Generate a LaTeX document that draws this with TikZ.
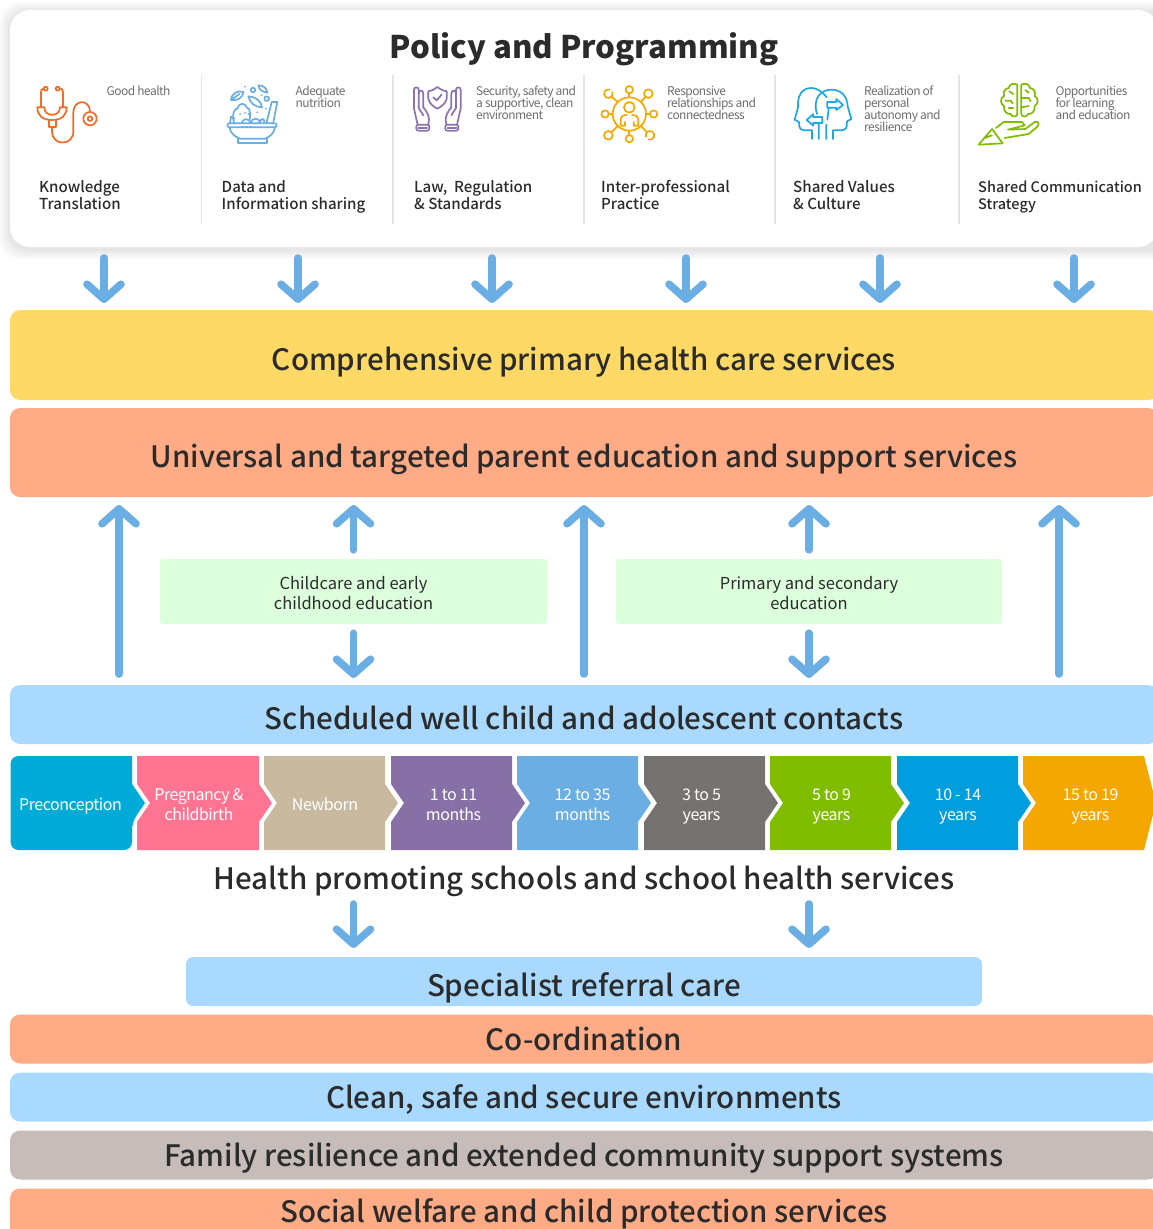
\documentclass[tikz,border=0pt]{standalone}
\usepackage{fontspec}
\usepackage{xcolor}
\setmainfont{Noto Sans CJK SC}
\newfontfamily\medfont{Noto Sans CJK SC Medium}
\newfontfamily\tightfont[LetterSpace=-4.5]{Noto Sans CJK SC}
\newfontfamily\stagefont[LetterSpace=-3]{Noto Sans CJK SC}
\newcommand{\notefont}{\tightfont\fontsize{12}{12}\selectfont\setlength{\lineskiplimit}{-20pt}}
\usetikzlibrary{arrows.meta,positioning}

\definecolor{flowblue}{HTML}{6AAEE4}
\definecolor{yellowband}{HTML}{FFD966}
\definecolor{orangeband}{HTML}{FFAB85}
\definecolor{blueband}{HTML}{AAD9FF}
\definecolor{greyband}{HTML}{C6BDBB}
\definecolor{greenbox}{HTML}{DCFFDC}
\definecolor{inkdark}{HTML}{2B2B2B}
\definecolor{inkgrey}{HTML}{6E6E6E}
\definecolor{iconorange}{HTML}{F56A23}
\definecolor{iconpurple}{HTML}{8B72B0}
\definecolor{iconamber}{HTML}{F5A800}
\definecolor{iconcyan}{HTML}{1FA6E3}
\definecolor{icongreen}{HTML}{80BC00}
\definecolor{stagecyan}{HTML}{00ACD7}
\definecolor{stagepink}{HTML}{FF7591}
\definecolor{stagetan}{HTML}{C9BA9F}
\definecolor{stagepurple}{HTML}{8770A6}
\definecolor{stagegrey}{HTML}{767270}
\definecolor{stagegreen}{HTML}{80BC00}
\definecolor{stageblue}{HTML}{009DDF}
\definecolor{stageamber}{HTML}{F4A700}

\begin{document}
\begin{tikzpicture}[x=1pt,y=-1pt,
                    band/.style={rounded corners=10pt, inner sep=0pt, minimum width=1148pt, text=inkdark, font=\medfont\fontsize{29.5}{30}\selectfont, text height=30pt, text depth=0pt},
                    lowband/.style={band, text height=22pt},
                    greenpanel/.style={fill=greenbox, rounded corners=3pt, inner sep=0pt, minimum width=387pt, minimum height=65pt, align=center, text=inkdark, text height=38pt, text depth=3pt, font=\fontsize{16.5}{20}\selectfont},
                    flow/.style={line width=7.6pt, line cap=round, flowblue, -{Straight Barb[length=15pt,width=34pt,round,line width=7.6pt]}},
                    topic/.style={anchor=north west, inner sep=0pt, align=left, text=inkdark, font=\medfont\fontsize{15.1}{17}\selectfont},
                    note/.style={anchor=north west, inner sep=0pt, align=left, text=inkgrey, font=\notefont},
                    stagetext/.style={inner sep=0pt, align=center, text=white, font=\stagefont\fontsize{16}{20}\selectfont},
                    divider/.style={line width=1.2pt, black!10},
                    icon/.style={x=.3333pt, y=-.3333pt, line width=1.7pt, line cap=round, line join=round},
                   ]

\useasboundingbox (0,0) rectangle (1153,1229);

% panel at the top
\foreach \s in {10,8,...,1}
  \fill[black, opacity=.018, rounded corners=20pt] (10-\s,10-\s+2) rectangle (1175+\s,247+\s+2);
\node[fill=white, rounded corners=20pt, inner sep=0pt, minimum width=1148pt, minimum height=237pt] (policy) at (584,128.5) {};
\node[inner sep=0pt, text=inkdark, font=\bfseries\fontsize{31.2}{32}\selectfont] (policytitle) at (584,49) {Policy and Programming};

\foreach \x in {201.5,393,584,775,959}
  \draw[divider] (\x,75) -- (\x,224);

\node[note] (goodhealth) at (106.5,86) {Good health};
\node[note] (nutrition) at (295.5,86) {Adequate\\nutrition};
\node[note] (security) at (476,86) {Security, safety and\\a supportive, clean\\environment};
\node[note] (relations) at (667,86) {Responsive\\relationships and\\connectedness};
\node[note] (autonomy) at (864,86) {Realization of\\personal\\autonomy and\\resilience};
\node[note] (learning) at (1055.5,86) {Opportunities\\for learning\\and education};

\node[topic] (knowledge) at (39,180) {Knowledge\\Translation};
\node[topic] (data) at (221.5,180) {Data and\\Information sharing};
\node[topic] (law) at (414,180) {Law,\ \ Regulation\\\& Standards};
\node[topic] (practice) at (601,180) {Inter-professional\\Practice};
\node[topic] (values) at (793,180) {Shared Values\\\& Culture};
\node[topic, font=\medfont\fontsize{14.5}{17}\selectfont] (strategy) at (978,181) {Shared Communication\\Strategy};

% stethoscope
\begin{scope}[shift={(30,78)},icon,color=iconorange]
\draw (47,32) circle (6) (83,32) circle (6);
\draw (41,31) .. controls (33,33) and (33,38) .. (33,45) -- (33,87);
\draw (89,31) .. controls (99,33) and (99,38) .. (99,45) -- (99,87);
\draw (22,88) -- (43,88) .. controls (43,118) and (90,118) .. (90,88) -- (110,88) .. controls (110,112) and (95,126) .. (66,126) .. controls (37,126) and (22,112) .. (22,88);
\draw (56,126) -- (56,147) -- (77,147) -- (77,126);
\draw (66,147) -- (66,160) .. controls (66,205) and (130,205) .. (130,160) -- (130,105) .. controls (130,62) and (180,62) .. (180,102);
\draw (180,122) circle (20) (180,122) circle (7);
\end{scope}

% salad bowl
\begin{scope}[shift={(220,78)},icon,color=flowblue]
\draw[rounded corners=2pt] (22,136) rectangle (170,148);
\draw (28,148) .. controls (32,165) and (42,175) .. (60,182) -- (135,182) .. controls (152,175) and (162,165) .. (165,148);
\draw (55,182) -- (55,195) -- (140,195) -- (140,182);
\draw (66,146) -- (70,146) (78,146) -- (82,146) (90,146) -- (94,146);
\draw (42,134) .. controls (35,110) and (42,92) .. (52,92) .. controls (55,75) and (75,72) .. (80,88) .. controls (92,90) and (92,115) .. (88,128);
\draw (30,134) -- (33,116) -- (44,122);
\draw (65,135) .. controls (68,120) and (88,120) .. (92,135) .. controls (95,118) and (118,118) .. (120,134) .. controls (122,120) and (132,118) .. (134,134);
\draw (140,133) -- (155,72) -- (172,72) -- (160,133);
\draw (33,66) .. controls (35,45) and (55,36) .. (70,42) .. controls (70,58) and (52,70) .. (33,66) -- (58,48);
\draw (85,55) .. controls (105,55) and (125,70) .. (126,88) .. controls (105,88) and (90,75) .. (85,55);
\draw (115,22) .. controls (130,22) and (140,30) .. (142,44) .. controls (128,42) and (116,35) .. (115,22);
\draw (99,36) circle (7) (140,62) circle (7);
\fill (75,26) circle (3) (125,52) circle (3) (138,92) circle (3) (112,103) circle (3) (60,108) circle (3) (75,105) circle (3) (85,108) circle (3);
\end{scope}

% hands round a shield
\begin{scope}[shift={(405,78)},icon,color=iconpurple]
\draw (97,27) .. controls (85,36) and (78,39) .. (70,40) -- (70,62) .. controls (72,76) and (85,86) .. (97,92) .. controls (109,86) and (122,76) .. (125,62) -- (125,40) .. controls (116,39) and (109,36) .. (97,27);
\draw (85,58) -- (95,67) -- (110,50);
\foreach \m/\o in {1/0,-1/194} {
  \begin{scope}[xshift=\o*.3333pt,xscale=\m]
  \draw[rounded corners=2pt] (34,140) rectangle (73,158);
  \draw (40,149) -- (66,149);
  \draw (38,140) -- (27,92) -- (27,35) .. controls (27,26) and (41,26) .. (41,35) -- (41,75);
  \draw (41,48) .. controls (41,34) and (55,34) .. (55,48) -- (55,88);
  \draw (41,75) -- (41,90) -- (55,112);
  \draw (55,88) .. controls (65,100) and (72,112) .. (72,125) -- (70,140);
  \end{scope}
}
\end{scope}

% person in a network
\begin{scope}[shift={(595,78)},icon,color=iconamber]
\draw (103,108) circle (50);
\draw (103,88) circle (16);
\draw (77,143) -- (77,125) .. controls (78,115) and (85,111) .. (95,111) (111,111) .. controls (121,111) and (129,115) .. (130,125) -- (130,143) -- (116,143) -- (116,132) (90,132) -- (90,143) -- (77,143);
\draw (103,58) -- (103,46) (103,158) -- (103,170) (153,108) -- (164,108) (53,108) -- (42,108);
\draw (103,35) circle (11) (103,182) circle (11) (176,108) circle (11) (30,108) circle (11);
\draw (68,72) -- (50,56) (138,72) -- (152,56) (68,144) -- (50,162) (138,144) -- (155,162);
\draw (160,47) circle (13) (40,172) circle (13);
\draw (52.2,42.6) arc (-20:290:13) (152.8,176.4) arc (160:470:13);
\end{scope}

% two heads with arrows
\begin{scope}[shift={(788,78)},icon,color=iconcyan]
\draw (87,108) .. controls (72,60) and (100,35) .. (130,35) .. controls (160,35) and (178,55) .. (179,85) -- (190,123) -- (177,130) -- (176,145) .. controls (175,155) and (165,157) .. (155,157) -- (135,157) -- (135,183);
\draw (116,58) .. controls (100,38) and (85,30) .. (70,30) .. controls (40,30) and (28,55) .. (30,88) -- (20,125) -- (33,132) -- (34,145) .. controls (35,155) and (45,157) .. (55,157) -- (72,157) -- (72,183);
\draw (92,140) -- (92,183) (115,140) -- (115,183) (122,92) -- (118,125);
\draw (118,72) -- (145,72) -- (145,63) -- (165,81) -- (145,96) -- (145,89) -- (118,89) -- cycle;
\draw (103,117) -- (76,117) -- (76,108) -- (56,126) -- (76,143) -- (76,135) -- (103,135) -- cycle;
\end{scope}

% brain above a hand
\begin{scope}[shift={(972,78)},icon,color=icongreen]
\draw (136,20) .. controls (125,14) and (112,18) .. (110,30) .. controls (98,32) and (92,42) .. (96,54) .. controls (84,60) and (84,78) .. (96,84) .. controls (94,100) and (106,110) .. (116,108) .. controls (118,118) and (136,118) .. (136,108) -- cycle;
\draw (148,20) .. controls (159,14) and (172,18) .. (174,30) .. controls (186,32) and (192,42) .. (188,54) .. controls (200,60) and (200,78) .. (188,84) .. controls (190,100) and (178,110) .. (168,108) .. controls (166,118) and (148,118) .. (148,108) -- cycle;
\draw (100,68) -- (116,68) -- (122,76) (112,40) -- (124,48) (110,90) -- (124,90) (148,60) -- (170,60) -- (176,70) (148,88) -- (170,84) (160,36) -- (170,44);
\draw (20,200) -- (60,153) -- (92,196) -- cycle (38,180) -- (60,172) (72,150) -- (95,132) -- (150,132) -- (158,142) -- (108,155) -- (160,153) -- (188,132) .. controls (198,128) and (204,138) .. (196,146) -- (170,168) -- (98,180);
\end{scope}

% bands
\node[band, fill=yellowband, minimum height=90pt] (primary) at (584,355) {Comprehensive primary health care services};
\node[band, fill=orangeband, minimum height=89pt] (parent) at (584,452.5) {Universal and targeted parent education and support services};
\node[greenpanel] (childcare) at (353.5,591.5) {Childcare and early\\childhood education};
\node[greenpanel, minimum width=386pt] (school) at (809,591.5) {Primary and secondary\\education};
\node[band, fill=blueband, minimum height=59pt] (contacts) at (584,714.5) {Scheduled well child and adolescent contacts};

% arrows from the panel to the first band
\foreach \x [count=\n] in {104,298,492,686,880,1074} {
  \coordinate (policyout\n) at (\x,258);
  \coordinate (primaryin\n) at (\x,303);
  \draw[flow] (policyout\n) -- (primaryin\n);
}

% arrows from contacts to the parent band
\foreach \x [count=\n] in {119,584,1059} {
  \coordinate (contactout\n) at (\x,674);
  \coordinate (parentin\n) at (\x,505);
  \draw[flow] (contactout\n) -- (parentin\n);
}
\coordinate (childtop) at (353.5,505);
\coordinate (schooltop) at (809,505);
\coordinate (childlow) at (353.5,678);
\coordinate (schoollow) at (809,678);
\draw[flow] ([yshift=9pt]childcare.north) -- (childtop);
\draw[flow] ([yshift=9pt]school.north) -- (schooltop);
\draw[flow] ([yshift=-9pt]childcare.south) -- (childlow);
\draw[flow] ([yshift=-9pt]school.south) -- (schoollow);

% life stages
\fill[stagecyan, rounded corners=8pt] (132,756) -- (10.5,756) -- (10.5,850) -- (132,850) -- (132,822) [sharp corners] -- (145,803) -- (132,784) -- cycle;
\foreach \xa/\xb/\col in {137/259/stagepink,264/385/stagetan,391/512/stagepurple,517/638/flowblue,644/765/stagegrey,770/891/stagegreen,897/1018/stageblue} {
  \fill[\col] (\xa,756) -- (\xb,756) -- (\xb,784) -- (\xb+13,803) -- (\xb,822) -- (\xb,850) -- (\xa,850) -- (\xa,822) -- (\xa+13,803) -- (\xa,784) -- cycle;
}
\fill[stageamber] (1023,756) -- (1144,756) -- (1156,803) -- (1144,850) -- (1023,850) -- (1023,822) -- (1036,803) -- (1023,784) -- cycle;

\node[stagetext] (preconception) at (70.5,806) {Preconception};
\node[stagetext] (pregnancy) at (199,805) {Pregnancy \&\\childbirth};
\node[stagetext] (newborn) at (325,804) {Newborn};
\node[stagetext] (infant) at (453.5,805) {1 to 11\\months};
\node[stagetext] (toddler) at (582.5,805) {12 to 35\\months};
\node[stagetext] (preschool) at (701.5,806.5) {3 to 5\\years};
\node[stagetext] (child) at (831.5,806.5) {5 to 9\\years};
\node[stagetext] (teen) at (958,806.5) {10 - 14\\years};
\node[stagetext] (youth) at (1090.5,806.5) {15 to 19\\years};

\node[inner sep=0pt, text=inkdark, font=\medfont\fontsize{29.5}{30}\selectfont] (schoolhealth) at (584,881) {Health promoting schools and school health services};

\coordinate (referralin1) at (353.5,948);
\coordinate (referralin2) at (809,948);
\coordinate (schoolout1) at (353.5,904);
\coordinate (schoolout2) at (809,904);
\draw[flow] (schoolout1) -- (referralin1);
\draw[flow] (schoolout2) -- (referralin2);

\node[band, fill=blueband, minimum width=796pt, minimum height=49pt, rounded corners=7pt] (referral) at (584,981.5) {Specialist referral care};
\node[lowband, fill=orangeband, minimum height=49pt] (coordination) at (584,1039) {Co-ordination};
\node[lowband, fill=blueband, minimum height=49pt] (environment) at (584,1097) {Clean, safe and secure environments};
\node[lowband, fill=greyband, minimum height=49pt] (family) at (584,1155) {Family resilience and extended community support systems};
\node[lowband, fill=orangeband, minimum height=49pt, text height=18pt] (welfare) at (584,1213) {Social welfare and child protection services};

\end{tikzpicture}
\end{document}
